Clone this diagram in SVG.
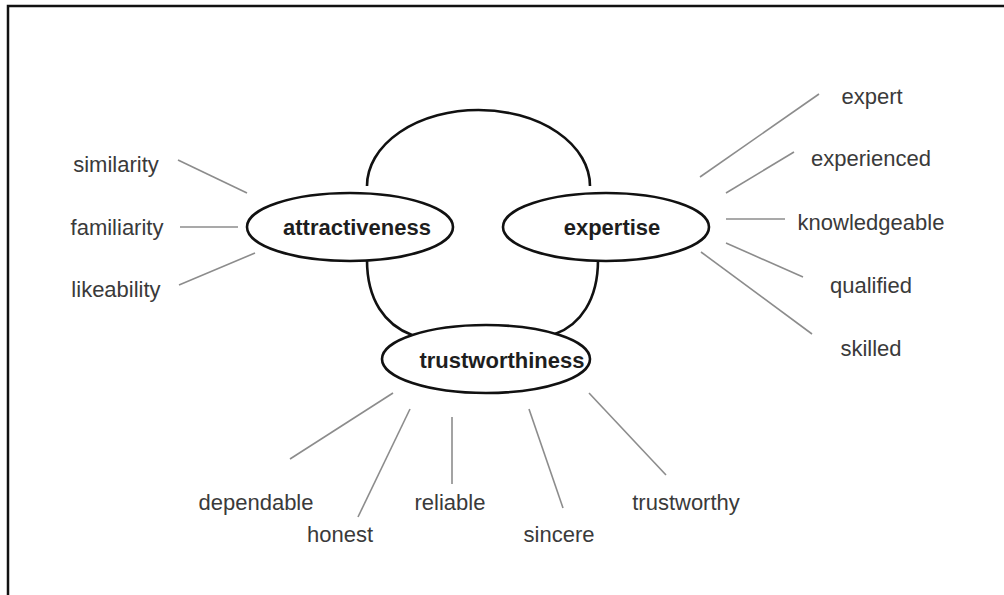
<svg xmlns="http://www.w3.org/2000/svg" width="1004" height="595" viewBox="0 0 1004 595">
<style>
.frame{stroke:#111;stroke-width:2.5;fill:none}
.node{fill:#fff;stroke:#111;stroke-width:2.6}
.arc{fill:none;stroke:#111;stroke-width:2.6}
.spoke{stroke:#8c8c8c;stroke-width:1.6;fill:none}
.lbl{font-family:"Liberation Sans",Arial,sans-serif;font-size:22px;fill:#3a3a3a;text-anchor:middle}
.key{font-family:"Liberation Sans",Arial,sans-serif;font-size:22px;font-weight:bold;fill:#1e1e1e;text-anchor:middle}
</style>
<rect width="1004" height="595" fill="#fff"/>
<path class="frame" d="M8,595 V6 H1004"/>
<g id="links">
<path class="arc" d="M367,186 A111.5,76 0 0 1 590,186"/>
<path class="arc" d="M367,260 C367,300 385,325 412,335"/>
<path class="arc" d="M598,260 C598,300 580,325 555,334"/>
</g>
<g id="spokes">
<line class="spoke" x1="178" y1="160" x2="247" y2="193"/>
<line class="spoke" x1="180" y1="227" x2="238" y2="227"/>
<line class="spoke" x1="179" y1="285" x2="255" y2="253"/>
<line class="spoke" x1="700" y1="177" x2="819" y2="94"/>
<line class="spoke" x1="726" y1="193" x2="794" y2="152"/>
<line class="spoke" x1="726" y1="219" x2="785" y2="219"/>
<line class="spoke" x1="726" y1="243" x2="803" y2="277"/>
<line class="spoke" x1="701" y1="252" x2="812" y2="334"/>
<line class="spoke" x1="393" y1="393" x2="290" y2="459"/>
<line class="spoke" x1="410" y1="409" x2="358" y2="517"/>
<line class="spoke" x1="452" y1="417" x2="452" y2="484"/>
<line class="spoke" x1="529" y1="409" x2="563" y2="508"/>
<line class="spoke" x1="589" y1="393" x2="666" y2="475"/>
</g>
<g id="attractiveness">
<ellipse class="node" cx="350" cy="227" rx="103" ry="34"/>
<text class="key" x="357" y="235">attractiveness</text>
</g>
<g id="expertise">
<ellipse class="node" cx="606" cy="227" rx="103" ry="34"/>
<text class="key" x="612" y="235">expertise</text>
</g>
<g id="trustworthiness">
<ellipse class="node" cx="486" cy="359" rx="104" ry="34"/>
<text class="key" x="502" y="368">trustworthiness</text>
</g>
<g id="labels">
<text class="lbl" x="116" y="172">similarity</text>
<text class="lbl" x="117" y="235">familiarity</text>
<text class="lbl" x="116" y="297">likeability</text>
<text class="lbl" x="872" y="104">expert</text>
<text class="lbl" x="871" y="166">experienced</text>
<text class="lbl" x="871" y="230">knowledgeable</text>
<text class="lbl" x="871" y="293">qualified</text>
<text class="lbl" x="871" y="356">skilled</text>
<text class="lbl" x="256" y="510">dependable</text>
<text class="lbl" x="340" y="542">honest</text>
<text class="lbl" x="450" y="510">reliable</text>
<text class="lbl" x="559" y="542">sincere</text>
<text class="lbl" x="686" y="510">trustworthy</text>
</g>
</svg>
